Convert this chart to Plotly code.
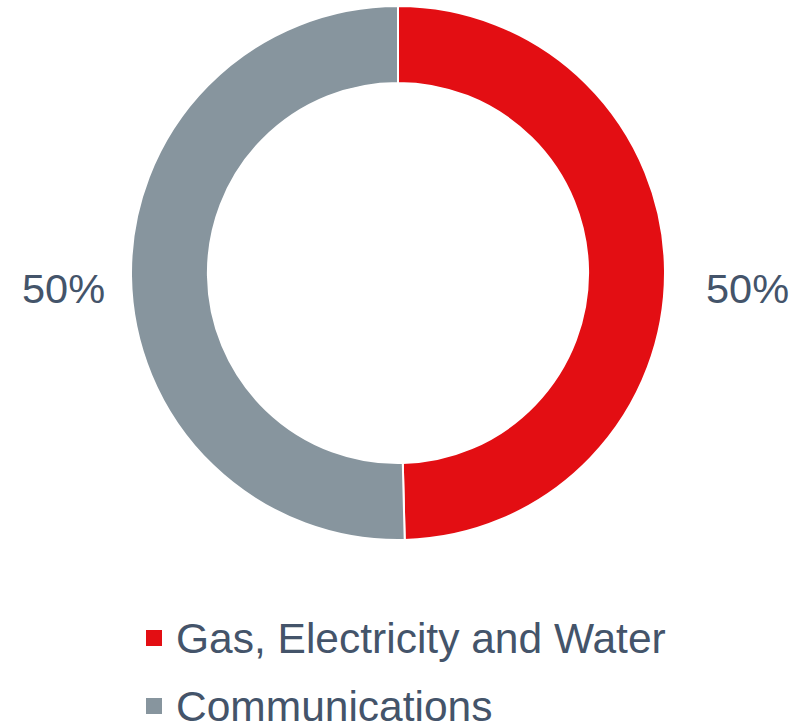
import plotly.graph_objects as go

labels = ["Gas, Electricity and Water", "Communications"]
values = [49.6, 50.4]
colors = ["#E30E13", "#87959E"]

W, H = 807, 725
cx, cy, R = 398, 273, 267
text_color = "#44546A"
font_family = "Liberation Sans, Arial, sans-serif"

fig = go.Figure()
fig.add_trace(go.Pie(
    labels=labels, values=values, hole=0.712, sort=False, direction="clockwise",
    rotation=0, marker=dict(colors=colors, line=dict(color="white", width=2)),
    textinfo="none", hoverinfo="label+percent", showlegend=False,
    domain=dict(x=[(cx - R) / W, (cx + R) / W], y=[(H - cy - R) / H, (H - cy + R) / H]),
))

total = sum(values)
pcts = [f"{round(v / total * 100)}%" for v in values]
label_pos = [(747, 288), (63, 288)]
for p, (px, py) in zip(pcts, label_pos):
    fig.add_annotation(x=px / W, y=1 - py / H, xref="paper", yref="paper", text=p,
                       showarrow=False, xanchor="center", yanchor="middle",
                       font=dict(family=font_family, size=41.5, color=text_color))

legend_rows = [638, 706]
for lab, col, ry in zip(labels, colors, legend_rows):
    fig.add_shape(type="rect", xref="paper", yref="paper",
                  x0=146 / W, x1=162 / W, y0=1 - (ry + 8) / H, y1=1 - (ry - 8) / H,
                  fillcolor=col, line=dict(width=0))
    fig.add_annotation(x=174 / W, y=1 - ry / H, xref="paper", yref="paper", text=lab,
                       showarrow=False, xanchor="left", yanchor="middle",
                       font=dict(family=font_family, size=42.5, color=text_color))

fig.update_layout(width=W, height=H, margin=dict(l=0, r=0, t=0, b=0),
                  paper_bgcolor="white", plot_bgcolor="white")
fig.write_html("out.html")
